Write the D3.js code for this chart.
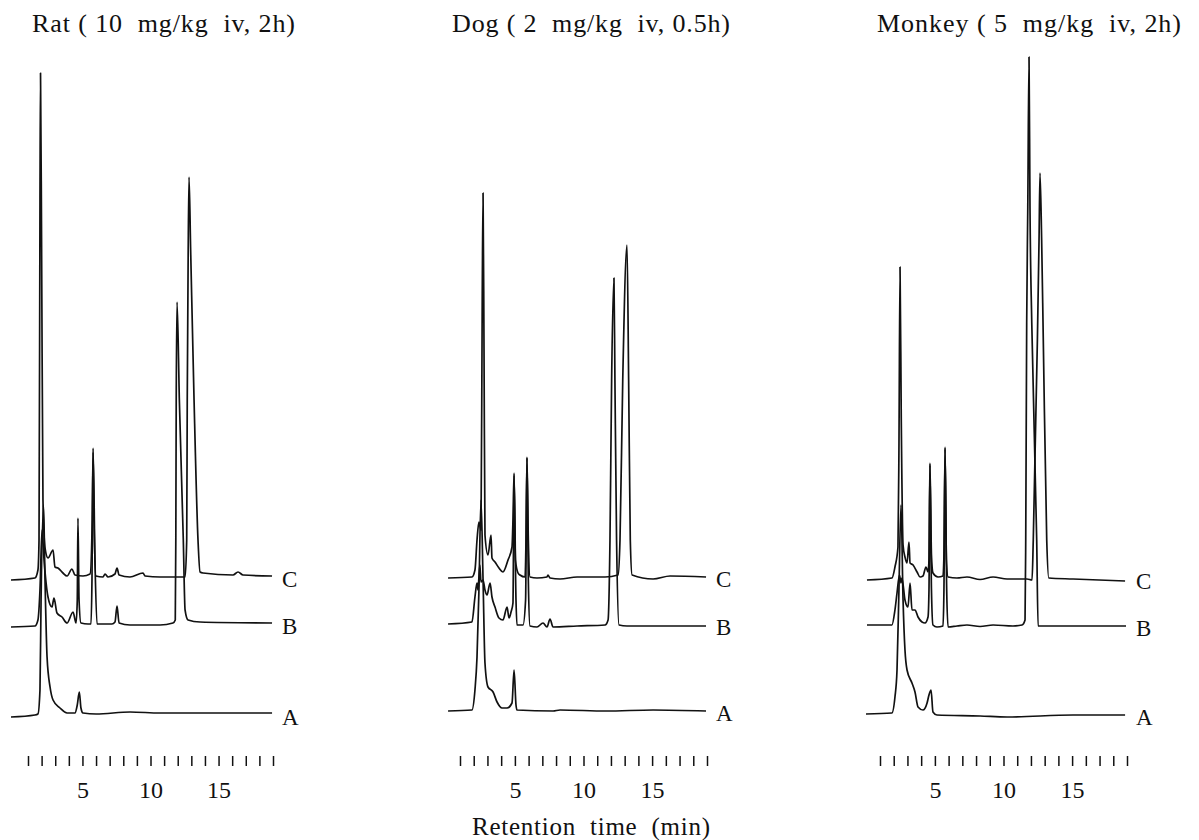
<!DOCTYPE html>
<html>
<head>
<meta charset="utf-8">
<script src="https://cdn.jsdelivr.net/npm/d3@7"></script>
<style>
  body { margin: 0; background: #fff; }
  svg text { font-family: "Liberation Serif", "DejaVu Serif", serif; fill: #111; }
</style>
</head>
<body>
<div id="chart"></div>
<script>
    // chromatogram traces: [retention time (min), response above the trace's own baseline]
    // A / B / C for each species
    const ratA = [[-0.25,-0.4],[1.51,0],[1.73,0.2],[1.88,5],[1.96,23],[2.14,42],[2.25,27],[2.40,11.6],[2.62,5.6],[2.84,3],
        [3.35,1.4],[3.87,0.4],[4.45,0.4],[4.62,2],[4.77,4.6],[4.89,1.4],[5.04,0.4],[6.0,0.2],[8.5,0.6],[10.7,0.4],
        [13.6,0.4],[16.8,0.4],[18.93,0.4]]
    const ratB = [[-0.25,-0.6],[1.51,-0.4],[1.73,0.8],[1.88,6.8],[2.03,18.8],[2.18,12.8],[2.47,5.4],[2.76,3.4],[2.91,5.2],
        [3.13,2.2],[3.50,1.4],[3.87,0.2],[4.31,2.4],[4.53,0.2],[4.62,4.8],[4.67,21.2],[4.75,4.8],[4.89,0.2],[5.41,0],
        [5.63,0],[5.70,8.8],[5.78,35.2],[5.92,12.8],[6.07,0],[7.17,0],[7.39,0.4],[7.54,3.6],[7.69,0.2],[8.49,-0.2],
        [10.70,-0.2],[11.65,0.2],[11.82,0.8],[11.86,16.8],[11.89,44.8],[11.95,64.4],[12.12,44.8],[12.41,16.8],
        [12.54,2.8],[12.76,0.8],[13.64,0.4],[18.93,0.2]]
    const ratC = [[-0.25,-0.6],[1.51,-0.2],[1.73,1.4],[1.81,7.4],[1.88,75.4],[1.92,100.8],[2.00,65.4],[2.10,15.4],
        [2.25,5.8],[2.47,3.8],[2.84,5.4],[2.98,2.0],[3.20,1.8],[3.57,0.8],[3.87,0.2],[4.23,1.6],[4.45,0.4],[5.04,0.2],
        [5.56,0.6],[5.72,11.4],[5.78,25.0],[5.85,11.4],[5.99,0.2],[6.51,0],[6.66,0.6],[6.88,0],[7.39,0.6],[7.54,1.8],
        [7.69,0.4],[8.49,0],[9.45,0.8],[9.60,0.2],[10.70,0],[11.65,0],[12.54,0],[12.66,7.4],[12.70,35.4],[12.77,65.4],
        [12.83,80],[12.95,65.4],[13.20,35.4],[13.49,7.4],[13.64,1.0],[13.86,0.8],[16.06,0.4],[16.43,1.0],[16.80,0.4],
        [18.93,0.2]]

    const dogA = [[0.13,0],[1.87,0.2],[2.09,4.2],[2.24,10.8],[2.38,24.2],[2.53,42.2],[2.68,26.2],[2.82,9.6],[3.04,4.8],
        [3.41,3.8],[3.70,1.8],[4.06,0.6],[4.43,0.6],[4.79,1.6],[4.94,8.2],[5.08,1.2],[5.15,0.2],[7.78,0],[8.29,0.2],
        [11.64,0],[15.07,0.2],[18.93,0]]
    const dogB = [[0.13,0.2],[1.87,0.6],[2.09,5.6],[2.24,8.4],[2.31,7],[2.38,9.6],[2.45,12],[2.53,8.6],[2.68,9],
        [2.82,7],[2.97,6],[3.19,8.4],[3.33,5.6],[3.55,3.6],[3.84,1.4],[4.13,1.0],[4.43,3.6],[4.57,1.4],[4.72,2.6],
        [4.86,4.4],[4.94,30],[5.08,5],[5.15,0],[5.59,0],[5.78,5],[5.88,33.6],[5.98,9],[6.10,-0.2],[6.61,-0.4],
        [7.05,0.4],[7.34,-0.4],[7.56,1.2],[7.78,-0.4],[9.53,-0.2],[11.57,0],[11.79,1],[11.93,17],[12.05,49],
        [12.22,69.4],[12.29,49],[12.41,17],[12.59,0],[13.17,-0.2],[18.93,-0.2]]
    const dogC = [[0.13,-0.2],[1.87,0],[2.09,1.4],[2.24,7.4],[2.38,11],[2.53,9.4],[2.62,55.4],[2.68,76.8],[2.75,45.4],
        [2.82,8.4],[3.04,4.4],[3.26,8.4],[3.33,3.8],[3.55,3.0],[3.84,1.8],[4.13,1.0],[4.50,3.4],[4.79,6.0],[4.86,11.4],
        [4.94,20.8],[5.04,3.4],[5.23,0.8],[5.37,0.4],[5.74,0],[5.81,7.4],[5.88,23.8],[5.98,7.4],[6.10,0],[6.61,-0.2],
        [7.34,0],[7.41,0.4],[7.56,-0.2],[8.29,-0.4],[9.53,0],[11.57,0],[12.52,0.4],[12.66,7.4],[12.86,39.4],
        [13.17,66.4],[13.29,39.4],[13.41,7.4],[13.54,0.4],[15.07,-0.4],[16.31,0.2],[18.93,0]]

    const monkeyA = [[-0.02,0.2],[1.87,0.4],[2.09,3.6],[2.24,9],[2.38,25],[2.53,42],[2.68,23],[2.82,13],[2.97,9],
        [3.33,6.4],[3.55,4.6],[3.77,1.6],[4.13,1],[4.43,2.4],[4.57,4],[4.72,5],[4.86,0.6],[5.15,0],[8.29,-0.2],
        [10.26,-0.4],[15.07,0],[18.86,0]]
    const monkeyB = [[0.05,0.2],[1.87,0.2],[2.09,3.2],[2.24,6.6],[2.42,10.2],[2.53,8.6],[2.60,9.6],[2.82,5.2],[3.04,3.8],
        [3.19,8.6],[3.33,3.2],[3.55,3.2],[3.77,1.8],[4.06,0.8],[4.28,0.6],[4.50,1.8],[4.57,7.2],[4.64,32.2],[4.75,7.2],
        [4.86,0.2],[5.15,-0.2],[5.59,0],[5.66,7.2],[5.74,35.8],[5.86,7.2],[5.96,-0.2],[6.61,0],[7.34,0.2],[8.29,-0.1],
        [9.24,0.2],[10.69,0],[11.35,0.2],[11.57,1.2],[11.62,17.2],[11.69,60.6],[11.77,83.8],[11.86,113.8],[11.93,83.8],
        [12.06,60.6],[12.42,17.2],[12.52,0],[18.93,0]]
    const monkeyC = [[0.05,-0.2],[1.87,0.2],[2.09,2.4],[2.31,6.4],[2.38,25.8],[2.46,62.4],[2.55,31.8],[2.68,6.8],
        [2.82,4.4],[2.97,3.2],[3.11,7.4],[3.19,3.2],[3.41,2.8],[3.70,1.4],[3.92,0.4],[4.13,0.6],[4.35,2.4],[4.50,1.4],
        [4.57,3.8],[4.64,23.2],[4.75,4.8],[4.86,1.2],[5.23,0.4],[5.59,0.6],[5.66,4.8],[5.74,26],[5.84,3.8],[5.96,0.4],
        [6.61,0.2],[7.34,0.4],[8.29,-0.1],[9.24,0.4],[10.26,0],[11.71,0],[12.08,-0.2],[12.17,7.8],[12.47,47.8],
        [12.59,67.8],[12.66,81.2],[12.78,67.8],[12.90,47.8],[13.15,7.8],[13.30,0.2],[15.07,0],[18.86,-0.4]]

    // vertical offset of each trace (A, B, C) in response units
    const traceNames = ["A", "B", "C"]
    const ratOffsets = [0, 18.2, 27.6]
    const dogOffsets = [0.8, 18, 27.6]
    const monkeyOffsets = [0, 17.8, 27.2]

    const panelTitles = ["Rat ( 10  mg/kg  iv, 2h)", "Dog ( 2  mg/kg  iv, 0.5h)", "Monkey ( 5  mg/kg  iv, 2h)"]
    const tickTimes = [1, 2, 3, 4, 5, 6, 7, 8, 9, 10, 11, 12, 13, 14, 15, 16, 17, 18, 19]
    const tickLabels = [5, 10, 15]
    const axisTitle = "Retention  time  (min)"

    let width = 1199
    let height = 840

    var svg = d3.select("#chart")
        .append("svg")
        .attr("width", width)
        .attr("height", height)

    // one response scale shared by the three panels
    var y = d3.scaleLinear()
        .domain([0, 130])
        .range([715, 65])

    // layout of each panel (pixel placement only)
    const panels = [
        {title: panelTitles[0], traces: [ratA, ratB, ratC], offsets: ratOffsets, x0: 28, x1: 273, titleX: 32, titleW: 263},
        {title: panelTitles[1], traces: [dogA, dogB, dogC], offsets: dogOffsets, x0: 460, x1: 707, titleX: 452, titleW: 278},
        {title: panelTitles[2], traces: [monkeyA, monkeyB, monkeyC], offsets: monkeyOffsets, x0: 880, x1: 1127, titleX: 877, titleW: 304}
    ]

    panels.forEach(p => drawPanel(p))

    // axis title under the middle panel
    svg.append("text")
        .attr("x", 591)
        .attr("y", 835)
        .attr("text-anchor", "middle")
        .attr("textLength", 238)
        .style("white-space", "pre")
        .style("font-size", "25px")
        .text(axisTitle)

    function drawPanel(p) {
        var x = d3.scaleLinear()
            .domain([1, 19])
            .range([p.x0, p.x1])

        var g = svg.append("g")

        // title
        g.append("text")
            .attr("x", p.titleX)
            .attr("y", 32)
            .attr("textLength", p.titleW)
            .attr("lengthAdjust", "spacing")
            .style("white-space", "pre")
            .style("font-size", "26px")
            .text(p.title)

        // traces A, B, C
        p.traces.forEach((trace, i) => {
            var line = d3.line()
                .x(d => x(d[0]))
                .y(d => y(d[1] + p.offsets[i]))
                .curve(d3.curveMonotoneX)

            g.append("path")
                .datum(trace)
                .attr("d", line)
                .attr("fill", "none")
                .attr("stroke", "#111")
                .attr("stroke-width", 1.7)
                .attr("stroke-linejoin", "round")

            g.append("text")
                .attr("x", x(19) + 9)
                .attr("y", y(p.offsets[i]) + 2)
                .attr("dominant-baseline", "central")
                .style("font-size", "23px")
                .text(traceNames[i])
        })

        // minute ticks, labelled every 5 min
        var axis = d3.axisBottom(x)
            .tickValues(tickTimes)
            .tickSize(10)
            .tickPadding(15)
            .tickFormat(d => tickLabels.includes(d) ? d : "")

        var ax = g.append("g")
            .attr("transform", "translate(0,756)")
            .call(axis)
            .attr("font-family", null)
            .attr("font-size", null)

        ax.select(".domain").remove()
        ax.selectAll(".tick line").attr("stroke", "#111").attr("stroke-width", 1.5)
        ax.selectAll(".tick text").style("font-size", "24px").attr("fill", "#111")
    }
</script>
</body>
</html>
